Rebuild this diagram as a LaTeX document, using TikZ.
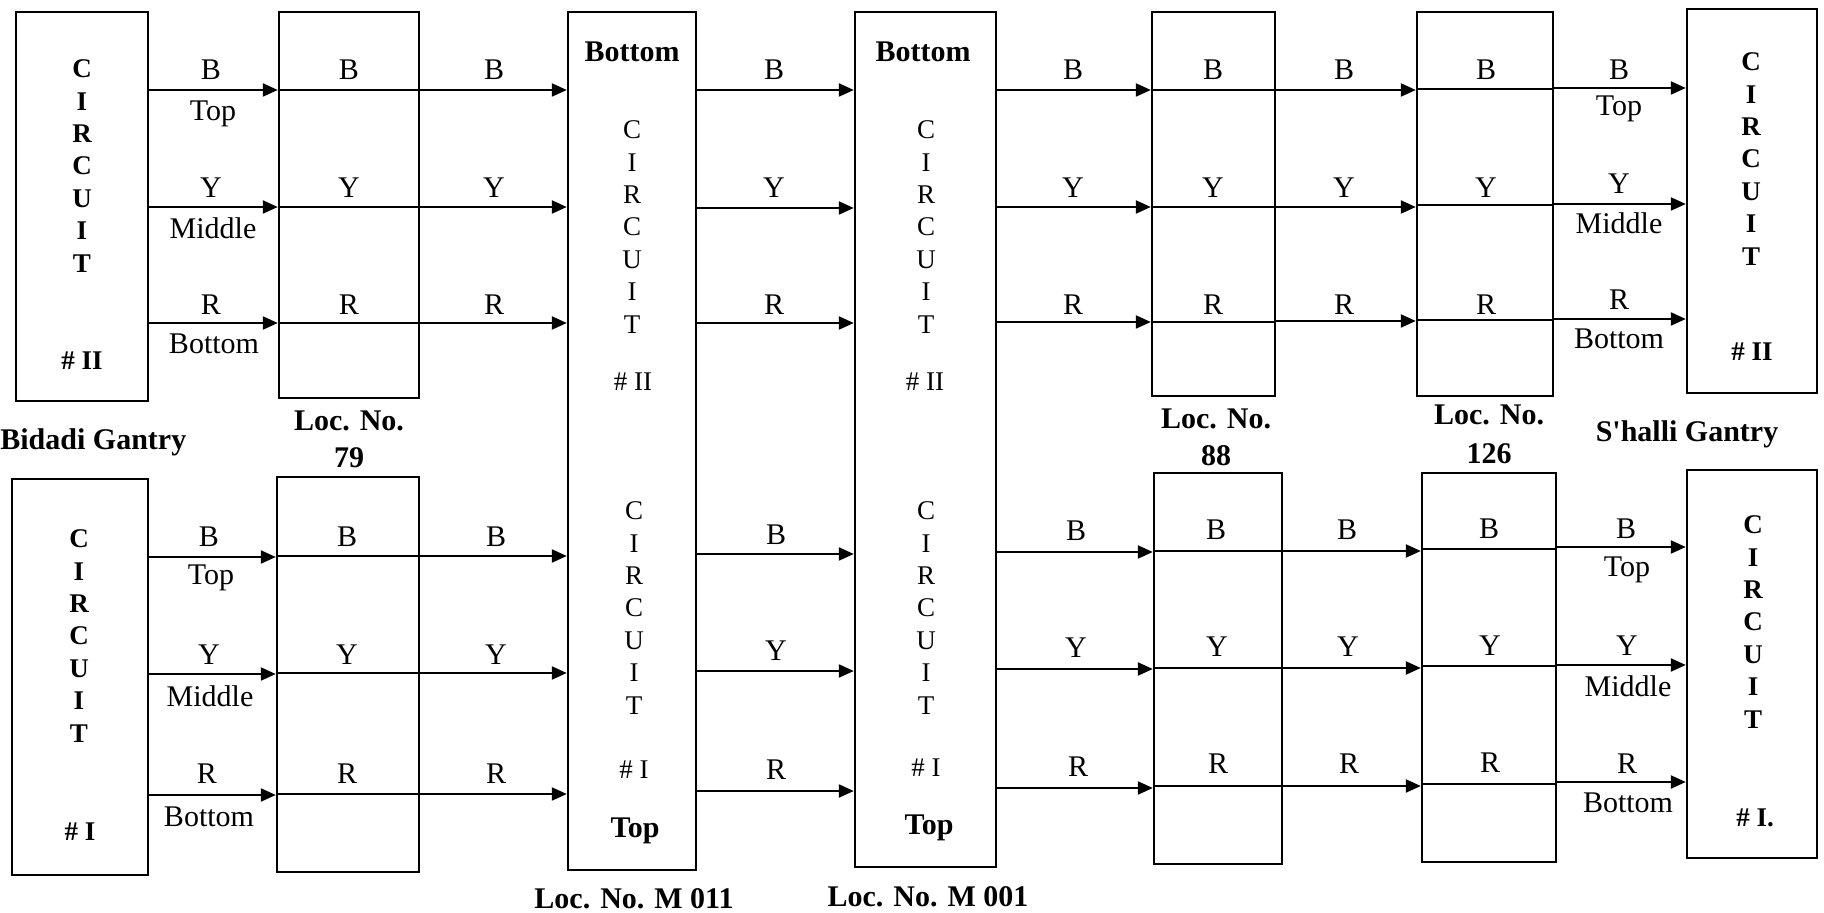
\documentclass[tikz,border=0pt]{standalone}
\usepackage{fontspec}
\setmainfont{Liberation Serif}
\usetikzlibrary{arrows.meta,fit}
\begin{document}
\begin{tikzpicture}[x=0.5pt,y=-0.5pt,
  box/.style={draw, line width=1.2pt, inner sep=0pt},
  wire/.style={line width=1.1pt},
  arr/.style={wire, -{Triangle[length=7.5pt,width=6.5pt]}},
  lbl/.style={font=\fontsize{15}{18}\selectfont, inner sep=0pt},
  blbl/.style={font=\bfseries\fontsize{15}{18}\selectfont, inner sep=0pt},
  ckt/.style={font=\bfseries\fontsize{13.5}{16.2}\selectfont, align=center, inner sep=0pt},
  ckti/.style={font=\fontsize{13.5}{16.2}\selectfont, align=center, inner sep=0pt},
]
\useasboundingbox (0,0) rectangle (1824,913);
% ---------- boxes ----------
\node[box, fit={(16,12) (148,401)}] (cL2) {};
\node[box, fit={(279,12) (419,398)}] (l79a) {};
\node[box, fit={(568,12) (696,870)}] (m011) {};
\node[box, fit={(855,12) (996,867)}] (m001) {};
\node[box, fit={(1152,12) (1275,396)}] (l88a) {};
\node[box, fit={(1417,12) (1553,396)}] (l126a) {};
\node[box, fit={(1687,9) (1817,393)}] (cR2) {};
\node[box, fit={(12,479) (148,875)}] (cL1) {};
\node[box, fit={(277,477) (419,872)}] (l79b) {};
\node[box, fit={(1154,473) (1282,864)}] (l88b) {};
\node[box, fit={(1422,473) (1556,862)}] (l126b) {};
\node[box, fit={(1687,470) (1817,858)}] (cR1) {};
% ---------- top wires ----------
\foreach \a/\b/\c in {90/207/323}{
  \draw[arr] (cL2.east |- 0,\a) -- (l79a.west |- 0,\a);
  \draw[arr] (cL2.east |- 0,\b) -- (l79a.west |- 0,\b);
  \draw[arr] (cL2.east |- 0,\c) -- (l79a.west |- 0,\c);
  \draw[wire] (l79a.west |- 0,\a) -- (l79a.east |- 0,\a);
  \draw[wire] (l79a.west |- 0,\b) -- (l79a.east |- 0,\b);
  \draw[wire] (l79a.west |- 0,\c) -- (l79a.east |- 0,\c);
  \draw[arr] (l79a.east |- 0,\a) -- (m011.west |- 0,\a);
  \draw[arr] (l79a.east |- 0,\b) -- (m011.west |- 0,\b);
  \draw[arr] (l79a.east |- 0,\c) -- (m011.west |- 0,\c);
}
\draw[arr] (m011.east |- 0,90) -- (m001.west |- 0,90);
\draw[arr] (m011.east |- 0,208) -- (m001.west |- 0,208);
\draw[arr] (m011.east |- 0,323) -- (m001.west |- 0,323);
\draw[arr] (m001.east |- 0,90) -- (l88a.west |- 0,90);
\draw[arr] (m001.east |- 0,207) -- (l88a.west |- 0,207);
\draw[arr] (m001.east |- 0,322) -- (l88a.west |- 0,322);
\draw[wire] (l88a.west |- 0,90) -- (l88a.east |- 0,90);
\draw[wire] (l88a.west |- 0,207) -- (l88a.east |- 0,207);
\draw[wire] (l88a.west |- 0,322) -- (l88a.east |- 0,322);
\draw[arr] (l88a.east |- 0,90) -- (l126a.west |- 0,90);
\draw[arr] (l88a.east |- 0,207) -- (l126a.west |- 0,207);
\draw[arr] (l88a.east |- 0,321) -- (l126a.west |- 0,321);
\draw[wire] (l126a.west |- 0,89) -- (l126a.east |- 0,89);
\draw[wire] (l126a.west |- 0,205) -- (l126a.east |- 0,205);
\draw[wire] (l126a.west |- 0,320) -- (l126a.east |- 0,320);
\draw[arr] (l126a.east |- 0,88) -- (cR2.west |- 0,88);
\draw[arr] (l126a.east |- 0,204) -- (cR2.west |- 0,204);
\draw[arr] (l126a.east |- 0,319) -- (cR2.west |- 0,319);
% ---------- bottom wires ----------
\draw[arr] (cL1.east |- 0,557) -- (l79b.west |- 0,557);
\draw[arr] (cL1.east |- 0,674) -- (l79b.west |- 0,674);
\draw[arr] (cL1.east |- 0,795) -- (l79b.west |- 0,795);
\draw[wire] (l79b.west |- 0,556) -- (l79b.east |- 0,556);
\draw[wire] (l79b.west |- 0,673) -- (l79b.east |- 0,673);
\draw[wire] (l79b.west |- 0,794) -- (l79b.east |- 0,794);
\draw[arr] (l79b.east |- 0,556) -- (m011.west |- 0,556);
\draw[arr] (l79b.east |- 0,673) -- (m011.west |- 0,673);
\draw[arr] (l79b.east |- 0,794) -- (m011.west |- 0,794);
\draw[arr] (m011.east |- 0,554) -- (m001.west |- 0,554);
\draw[arr] (m011.east |- 0,671) -- (m001.west |- 0,671);
\draw[arr] (m011.east |- 0,791) -- (m001.west |- 0,791);
\draw[arr] (m001.east |- 0,552) -- (l88b.west |- 0,552);
\draw[arr] (m001.east |- 0,669) -- (l88b.west |- 0,669);
\draw[arr] (m001.east |- 0,788) -- (l88b.west |- 0,788);
\draw[wire] (l88b.west |- 0,551) -- (l88b.east |- 0,551);
\draw[wire] (l88b.west |- 0,668) -- (l88b.east |- 0,668);
\draw[wire] (l88b.west |- 0,786) -- (l88b.east |- 0,786);
\draw[arr] (l88b.east |- 0,551) -- (l126b.west |- 0,551);
\draw[arr] (l88b.east |- 0,668) -- (l126b.west |- 0,668);
\draw[arr] (l88b.east |- 0,786) -- (l126b.west |- 0,786);
\draw[wire] (l126b.west |- 0,549) -- (l126b.east |- 0,549);
\draw[wire] (l126b.west |- 0,666) -- (l126b.east |- 0,666);
\draw[wire] (l126b.west |- 0,784) -- (l126b.east |- 0,784);
\draw[arr] (l126b.east |- 0,547) -- (cR1.west |- 0,547);
\draw[arr] (l126b.east |- 0,665) -- (cR1.west |- 0,665);
\draw[arr] (l126b.east |- 0,782) -- (cR1.west |- 0,782);
% ---------- phase labels, top row ----------
\foreach \x [count=\i] in {211,349,494,774,1073,1213,1344,1486}{
  \node[lbl] (tB\i) at (\x,70) {B};
  \node[lbl] (tY\i) at (\x,188) {Y};
  \node[lbl] (tR\i) at (\x,305) {R};
}
\node[lbl] (tB9) at (1619,70) {B};
\node[lbl] (tY9) at (1619,184) {Y};
\node[lbl] (tR9) at (1619,300) {R};
\node[lbl] (tT1) at (213,114) {Top};
\node[lbl] (tM1) at (213,228) {Middle};
\node[lbl] (tBo1) at (214,344) {Bottom};
\node[lbl] (tT9) at (1619,109) {Top};
\node[lbl] (tM9) at (1619,223) {Middle};
\node[lbl] (tBo9) at (1619,339) {Bottom};
% ---------- phase labels, bottom row ----------
\node[lbl] (bB1) at (209,537) {B};
\node[lbl] (bY1) at (209,655) {Y};
\node[lbl] (bR1) at (207,774) {R};
\node[lbl] (bT1) at (211,578) {Top};
\node[lbl] (bM1) at (210,696) {Middle};
\node[lbl] (bBo1) at (209,817) {Bottom};
\node[lbl] (bB2) at (347,537) {B};
\node[lbl] (bY2) at (347,655) {Y};
\node[lbl] (bR2) at (347,774) {R};
\node[lbl] (bB3) at (496,537) {B};
\node[lbl] (bY3) at (496,655) {Y};
\node[lbl] (bR3) at (496,774) {R};
\node[lbl] (bB4) at (776,535) {B};
\node[lbl] (bY4) at (776,651) {Y};
\node[lbl] (bR4) at (776,770) {R};
\node[lbl] (bB5) at (1076,531) {B};
\node[lbl] (bY5) at (1076,648) {Y};
\node[lbl] (bR5) at (1078,767) {R};
\node[lbl] (bB6) at (1216,530) {B};
\node[lbl] (bY6) at (1217,647) {Y};
\node[lbl] (bR6) at (1218,764) {R};
\node[lbl] (bB7) at (1347,530) {B};
\node[lbl] (bY7) at (1348,647) {Y};
\node[lbl] (bR7) at (1349,764) {R};
\node[lbl] (bB8) at (1489,529) {B};
\node[lbl] (bY8) at (1490,646) {Y};
\node[lbl] (bR8) at (1490,763) {R};
\node[lbl] (bB9) at (1626,529) {B};
\node[lbl] (bY9) at (1627,646) {Y};
\node[lbl] (bR9) at (1627,764) {R};
\node[lbl] (bT9) at (1627,570) {Top};
\node[lbl] (bM9) at (1628,686) {Middle};
\node[lbl] (bBo9) at (1628,803) {Bottom};
% ---------- circuit texts ----------
\node[ckt] (kL2) at (82,166) {C\\I\\R\\C\\U\\I\\T};
\node[ckt] (kL2n) at (82,361) {\# II};
\node[ckt] (kL1) at (79,636) {C\\I\\R\\C\\U\\I\\T};
\node[ckt] (kL1n) at (80,832) {\# I};
\node[ckt] (kR2) at (1751,159) {C\\I\\R\\C\\U\\I\\T};
\node[ckt] (kR2n) at (1752,352) {\# II};
\node[ckt] (kR1) at (1753,622) {C\\I\\R\\C\\U\\I\\T};
\node[ckt] (kR1n) at (1755,818) {\# I.};
\node[blbl] (mBt1) at (632,52) {Bottom};
\node[ckti] (kM11a) at (632,227) {C\\I\\R\\C\\U\\I\\T};
\node[ckti] (kM11an) at (633,382) {\# II};
\node[ckti] (kM11b) at (634,608) {C\\I\\R\\C\\U\\I\\T};
\node[ckti] (kM11bn) at (634,770) {\# I};
\node[blbl] (mTp1) at (635,831) {Top};
\node[blbl] (mBt2) at (923,52) {Bottom};
\node[ckti] (kM01a) at (926,227) {C\\I\\R\\C\\U\\I\\T};
\node[ckti] (kM01an) at (925,382) {\# II};
\node[ckti] (kM01b) at (926,608) {C\\I\\R\\C\\U\\I\\T};
\node[ckti] (kM01bn) at (926,768) {\# I};
\node[blbl] (mTp2) at (929,828) {Top};
% ---------- captions ----------
\node[blbl, anchor=west] (gL) at (0,442) {Bidadi Gantry};
\node[blbl] (c79a) at (349,421) {Loc. No.};
\node[blbl] (c79b) at (349,458) {79};
\node[blbl] (c88a) at (1216,419) {Loc. No.};
\node[blbl] (c88b) at (1216,456) {88};
\node[blbl] (c126a) at (1489,415) {Loc. No.};
\node[blbl] (c126b) at (1489,454) {126};
\node[blbl] (gR) at (1687,434) {S\textquotesingle halli Gantry};
\node[blbl] (cM11) at (634,899) {Loc. No. M 011};
\node[blbl] (cM01) at (928,897) {Loc. No. M 001};
\end{tikzpicture}
\end{document}
